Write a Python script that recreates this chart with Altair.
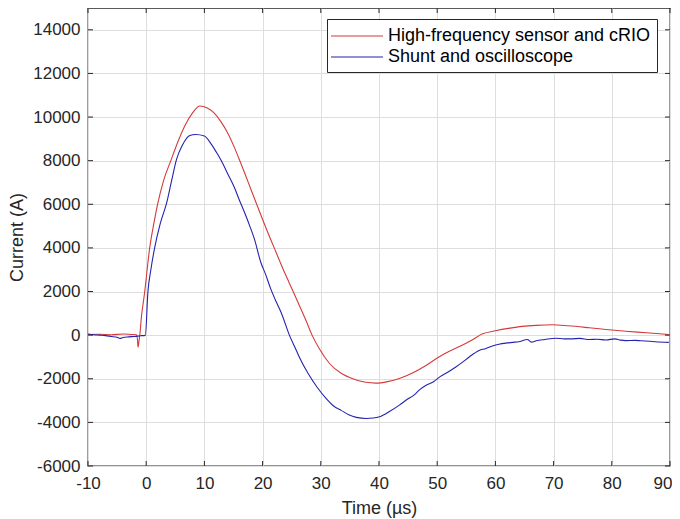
import altair as alt
import pandas as pd

# ---- data ----
red_t = [-10, -8, -6, -4, -2.5, -1.7, -1.5, -1.4, -1.25, -1.1, -0.8, -0.5, -0.25, 0.2, 0.6, 1.3, 2.0,
         3.0, 4.3, 5.5, 6.6, 8.0, 9.2, 10.5, 11.7, 12.8, 14.0, 15.0, 16.0, 17.0, 18.0, 19.0, 20.0,
         21.0, 22.0, 23.2, 24.3, 25.5, 26.6, 27.6, 28.5, 29.8, 31.5, 33.5, 35.5, 37.5, 39.5, 41.5,
         43.5, 46.0, 48.0, 50.3, 52.0, 54.0, 56.0, 57.8, 60.0, 62.5, 64.6, 67.0, 69.8, 72.5, 76.1,
         79.0, 82.4, 86.0, 89.8]
red_i = [30, 40, 20, 50, 30, 20, -200, -550, -300, 0, 900, 1500, 2000, 3100, 4000, 5100, 6050,
         7100, 8050, 8900, 9580, 10200, 10510, 10420, 10180, 9800, 9270, 8700, 8050, 7380, 6680, 5990, 5300,
         4640, 4000, 3230, 2560, 1850, 1190, 580, 0, -650, -1300, -1750, -2000, -2150, -2200, -2130,
         -1990, -1700, -1400, -1000, -750, -500, -220, 60, 200, 320, 400, 450, 475, 430, 340,
         260, 180, 110, 30]

blue_t = [-10, -9, -8, -7, -6, -5, -4.5, -4, -3, -2, -1, -0.15, 0.3, 0.8, 1.45, 2.4, 3.5, 4.3, 5.2,
          6.2, 7.5, 8.5, 10.0, 11.2, 12.3, 13.2, 14.0, 15.1, 16.0, 16.9, 17.8, 18.6, 19.7, 20.5, 21.4,
          22.3, 23.2, 24.6, 25.8, 26.3, 27.8, 29.4, 30.9, 32.2, 33.5, 34.8, 36.1, 37.8, 39.0, 40.1, 41.8,
          43.5, 44.8, 46.0, 47.0, 48.1, 49.3, 50.5, 51.8, 53.2, 54.3, 55.5, 57.2, 58.3, 59.5, 60.6,
          61.8, 63.0, 64.0, 65.5, 66.2, 67.0, 68.5, 70.4, 71.8, 73.0, 74.5, 76.1, 77.5, 79.0, 80.5,
          81.5, 82.4, 84.0, 85.0, 86.5, 87.5, 89.8]
blue_i = [50, 20, 0, -20, -60, -100, -150, -110, -80, -60, -30, -10, 2000, 3000, 4000, 5100, 6050, 7000, 8050,
          8700, 9150, 9200, 9130, 8750, 8280, 7850, 7400, 6800, 6200, 5620, 5000, 4400, 3330, 2800, 2120,
          1550, 1030, 0, -700, -1000, -1750, -2400, -2900, -3250, -3450, -3650, -3770, -3820, -3800, -3740, -3500,
          -3210, -2950, -2750, -2500, -2300, -2150, -1900, -1700, -1460, -1250, -1000, -700, -620, -500, -420,
          -365, -330, -300, -200, -320, -260, -200, -140, -170, -170, -150, -200, -190, -220, -170,
          -230, -250, -240, -260, -280, -300, -330]

series_names = ["High-frequency sensor and cRIO", "Shunt and oscilloscope"]
series_colors = ["#d43a3a", "#2323b0"]

x_ticks = list(range(-10, 91, 10))
y_ticks = list(range(-6000, 14001, 2000))

df = pd.concat([
    pd.DataFrame({"t": red_t, "I": red_i, "series": series_names[0]}),
    pd.DataFrame({"t": blue_t, "I": blue_i, "series": series_names[1]}),
], ignore_index=True)

W, H = 582, 458
FONT = "Liberation Sans"
TXT = "#262626"

x_scale = alt.Scale(domain=[-10, 90], nice=False, zero=False)
y_scale = alt.Scale(domain=[-6000, 15000], nice=False, zero=False)
x_axis = alt.Axis(values=x_ticks, title="Time (µs)", tickSize=0, labelPadding=9,
                  titlePadding=8, grid=True, labelFlush=False, labelExpr="'' + datum.value",
                  labelAlign={"condition": {"test": "datum.value == 90", "value": "right"},
                              "value": "center"},
                  labelOffset={"condition": {"test": "datum.value == 90", "value": 2},
                               "value": 0})
y_axis = alt.Axis(values=y_ticks, title="Current (A)", tickSize=0, labelPadding=8,
                  titlePadding=6, grid=True, labelFlush=False, labelExpr="'' + datum.value")

lines = alt.Chart(df).mark_line(strokeWidth=1.1, clip=True, interpolate="monotone").encode(
    x=alt.X("t:Q", scale=x_scale, axis=x_axis),
    y=alt.Y("I:Q", scale=y_scale, axis=y_axis),
    color=alt.Color("series:N",
                    scale=alt.Scale(domain=series_names, range=series_colors),
                    legend=alt.Legend(orient="none", legendX=239, legendY=11, title=None,
                                      symbolType="M-2.6,0H2.6", symbolSize=400, symbolStrokeWidth=1.2,
                                      symbolOffset=13,
                                      labelFontSize=18, labelFont=FONT, labelColor="#000000",
                                      strokeColor="#262626", fillColor="white", padding=6,
                                      rowPadding=1, labelOffset=20, labelLimit=400)),
)

xt = pd.DataFrame({"t": x_ticks})
yt = pd.DataFrame({"I": y_ticks})

tick_color = TXT
bottom_ticks = alt.Chart(xt).mark_rule(color=tick_color, strokeWidth=1).encode(
    x=alt.X("t:Q", scale=x_scale, axis=x_axis), y=alt.value(H), y2=alt.value(H - 5))
top_ticks = alt.Chart(xt).mark_rule(color=tick_color, strokeWidth=1).encode(
    x=alt.X("t:Q", scale=x_scale, axis=x_axis), y=alt.value(0), y2=alt.value(5))
left_ticks = alt.Chart(yt).mark_rule(color=tick_color, strokeWidth=1).encode(
    y=alt.Y("I:Q", scale=y_scale, axis=y_axis), x=alt.value(0), x2=alt.value(5))
right_ticks = alt.Chart(yt).mark_rule(color=tick_color, strokeWidth=1).encode(
    y=alt.Y("I:Q", scale=y_scale, axis=y_axis), x=alt.value(W), x2=alt.value(W - 5))

chart = alt.layer(lines, bottom_ticks, top_ticks, left_ticks, right_ticks).properties(
    width=W, height=H,
    autosize=alt.AutoSizeParams(type="none"),
    padding={"left": 80, "top": 0, "right": 2, "bottom": 53},
    background="white",
).configure_view(
    stroke=TXT, strokeWidth=1.3
).configure_axis(
    labelFont=FONT, titleFont=FONT, labelFontSize=17, titleFontSize=18,
    labelColor=TXT, titleColor=TXT, titleFontWeight="normal",
    domain=False, gridColor="#dedede", gridWidth=1,
)

chart.save("out.html", embed_options={"renderer": "svg", "actions": False})
